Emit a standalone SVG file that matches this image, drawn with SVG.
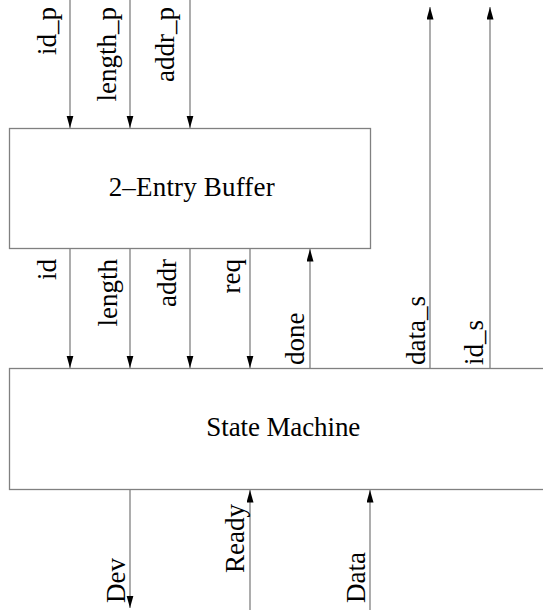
<svg xmlns="http://www.w3.org/2000/svg" width="543" height="610" viewBox="0 0 543 610">
<style>
.box{fill:#fff;stroke:#808080;stroke-width:1.3}
.w{fill:none;stroke:#808080;stroke-width:1.3}
.t{font-family:"Liberation Serif","Times New Roman",serif;font-size:27px;fill:#000}
.lbl{font-family:"Liberation Serif","Times New Roman",serif;font-size:27px;fill:#000}
</style>
<defs>
<marker id="ah" markerUnits="userSpaceOnUse" markerWidth="13" markerHeight="8" refX="12.5" refY="3.5" orient="auto">
<path d="M0,0 L12.5,3.5 L0,7 Z" fill="#000"/>
</marker>
</defs>
<g id="buffer">
<rect class="box" x="9.5" y="128.5" width="361" height="120"/>
<text class="t" x="191.7" y="196" text-anchor="middle" textLength="166">2–Entry Buffer</text>
</g>
<g id="state-machine">
<rect class="box" x="9.5" y="368.5" width="600" height="121"/>
<text class="t" x="283.3" y="436" text-anchor="middle" textLength="154">State Machine</text>
</g>
<g id="connectors">
<line class="w" x1="70" y1="0" x2="70" y2="128" marker-end="url(#ah)"/>
<line class="w" x1="130" y1="0" x2="130" y2="128" marker-end="url(#ah)"/>
<line class="w" x1="190" y1="0" x2="190" y2="128" marker-end="url(#ah)"/>
<line class="w" x1="70" y1="249" x2="70" y2="368" marker-end="url(#ah)"/>
<line class="w" x1="130" y1="249" x2="130" y2="368" marker-end="url(#ah)"/>
<line class="w" x1="190" y1="249" x2="190" y2="368" marker-end="url(#ah)"/>
<line class="w" x1="250" y1="249" x2="250" y2="368" marker-end="url(#ah)"/>
<line class="w" x1="310" y1="368" x2="310" y2="249" marker-end="url(#ah)"/>
<line class="w" x1="430" y1="368" x2="430" y2="7" marker-end="url(#ah)"/>
<line class="w" x1="490" y1="368" x2="490" y2="7" marker-end="url(#ah)"/>
<line class="w" x1="130" y1="490" x2="130" y2="608" marker-end="url(#ah)"/>
<line class="w" x1="250" y1="610" x2="250" y2="490" marker-end="url(#ah)"/>
<line class="w" x1="370" y1="610" x2="370" y2="490" marker-end="url(#ah)"/>
</g>
<g id="labels">
<text class="lbl" transform="translate(56,7) rotate(-90)" text-anchor="end">id_p</text>
<text class="lbl" transform="translate(116,7) rotate(-90)" text-anchor="end">length_p</text>
<text class="lbl" transform="translate(174,7) rotate(-90)" text-anchor="end">addr_p</text>
<text class="lbl" transform="translate(56,259) rotate(-90)" text-anchor="end">id</text>
<text class="lbl" transform="translate(117,259) rotate(-90)" text-anchor="end">length</text>
<text class="lbl" transform="translate(176,259) rotate(-90)" text-anchor="end">addr</text>
<text class="lbl" transform="translate(240,259) rotate(-90)" text-anchor="end">req</text>
<text class="lbl" transform="translate(304,365) rotate(-90)">done</text>
<text class="lbl" transform="translate(425,365) rotate(-90)">data_s</text>
<text class="lbl" transform="translate(483,365) rotate(-90)">id_s</text>
<text class="lbl" transform="translate(125,603) rotate(-90)">Dev</text>
<text class="lbl" transform="translate(244,573) rotate(-90)">Ready</text>
<text class="lbl" transform="translate(365,603) rotate(-90)">Data</text>
</g>
</svg>
